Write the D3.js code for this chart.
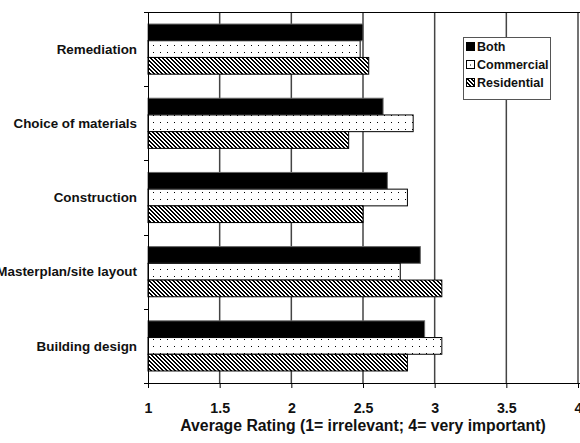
<!DOCTYPE html>
<html><head><meta charset="utf-8">
<script src="https://cdn.jsdelivr.net/npm/d3@7"></script>
<style>body{margin:0;background:#fff}svg{display:block;font-family:"Liberation Sans",Arial,sans-serif}</style>
</head><body><svg id="c" width="580" height="443"></svg>
<script>
const categories = ["Remediation","Choice of materials","Construction","Masterplan/site layout","Building design"];
const seriesNames = ["Both","Commercial","Residential"];
const both = [2.50, 2.64, 2.67, 2.90, 2.93];
const commercial = [2.48, 2.85, 2.81, 2.76, 3.05];
const residential = [2.54, 2.40, 2.50, 3.05, 2.81];
const xTicks = [1, 1.5, 2, 2.5, 3, 3.5, 4];
const xTitle = "Average Rating (1= irrelevant; 4= very important)";

const seriesValues = [both, commercial, residential];
const svg = d3.select("#c");
const L = 148, T = 12, R = 578, B = 383;

const defs = svg.append("defs");
const pd = defs.append("pattern").attr("id","dots").attr("patternUnits","userSpaceOnUse")
  .attr("width",7).attr("height",7).attr("x",L+3).attr("y",0);
pd.append("rect").attr("width",7).attr("height",7).attr("fill","#fff");
pd.append("rect").attr("x",2).attr("y",3).attr("width",1).attr("height",1).attr("fill","#000");
const ph = defs.append("pattern").attr("id","hatch").attr("patternUnits","userSpaceOnUse")
  .attr("width",4).attr("height",4);
ph.append("rect").attr("width",4).attr("height",4).attr("fill","#fff");
[[0,0],[1,1],[2,2],[3,3],[1,0],[2,1],[3,2],[0,3]].forEach(([a,b])=>{
  ph.append("rect").attr("x",a).attr("y",b).attr("width",1).attr("height",1).attr("fill","#000");
});
const fills = ["#000","url(#dots)","url(#hatch)"];

const x = d3.scaleLinear().domain([1,4]).range([L,R]);
const y0 = d3.scaleBand().domain(categories).range([T,B]).padding(0);
const y1 = d3.scaleBand().domain(seriesNames).range([0,y0.bandwidth()]).paddingInner(0).paddingOuter(0.72);

// gridlines
svg.append("g").selectAll("line").data(xTicks.slice(1)).join("line")
  .attr("x1",d=>x(d)).attr("x2",d=>x(d)).attr("y1",T).attr("y2",B)
  .attr("stroke","#444").attr("stroke-width",1.5);
// top border
svg.append("line").attr("x1",L-4).attr("x2",R+2).attr("y1",T+0.5).attr("y2",T+0.5).attr("stroke","#000");

// bars
const g = svg.append("g");
categories.forEach((c,i)=>{
  seriesNames.forEach((s,j)=>{
    const v = seriesValues[j][i];
    g.append("rect")
      .attr("x",x(1)).attr("y",y0(c)+y1(s))
      .attr("width",x(v)-x(1)).attr("height",y1.bandwidth())
      .attr("fill",fills[j]).attr("stroke", j===0?"#666":"#000").attr("stroke-width",1);
  });
});

// left axis
svg.append("line").attr("x1",L+0.5).attr("x2",L+0.5).attr("y1",T).attr("y2",B).attr("stroke","#000");
const bounds = categories.map(c=>y0(c)).concat([B]);
svg.append("g").selectAll("line").data(bounds).join("line")
  .attr("x1",L-4).attr("x2",L).attr("y1",d=>Math.round(d)+0.5).attr("y2",d=>Math.round(d)+0.5).attr("stroke","#000");
svg.append("g").selectAll("text").data(categories).join("text")
  .attr("x",137).attr("y",d=>y0(d)+y0.bandwidth()/2).attr("dy","0.35em")
  .attr("text-anchor","end").attr("font-size",13.4).attr("font-weight","bold").attr("fill","#111")
  .text(d=>d);

// bottom axis
const ax = svg.append("g").attr("transform",`translate(0,${B})`)
  .call(d3.axisBottom(x).tickValues(xTicks).tickFormat(d3.format("")).tickSize(5).tickPadding(15).tickSizeOuter(0));
ax.select(".domain").attr("d",`M${L-4},0.5H${R+2}`).attr("stroke","#000");
ax.selectAll("text").attr("font-size",14.2).attr("font-weight","bold").attr("fill","#111").attr("font-family","Liberation Sans, Arial");
svg.append("text").attr("x",(L+R)/2).attr("y",430.5).attr("text-anchor","middle")
  .attr("font-size",15.8).attr("font-weight","bold").attr("fill","#111").text(xTitle);

// legend
const lg = svg.append("g");
lg.append("rect").attr("x",463.5).attr("y",37.5).attr("width",87).attr("height",62)
  .attr("fill","#fff").attr("stroke","#555");
seriesNames.forEach((s,j)=>{
  const cy = 46.5 + j*18;
  lg.append("rect").attr("x",466.5).attr("y",cy-4).attr("width",8).attr("height",8)
    .attr("fill", j===1?"#fff":fills[j]).attr("stroke","#000");
  if (j===1) lg.append("rect").attr("x",470).attr("y",cy).attr("width",1).attr("height",1).attr("fill","#000");
  lg.append("text").attr("x",477).attr("y",cy).attr("dy","0.35em")
    .attr("font-size",12.5).attr("font-weight","bold").attr("fill","#111").text(s);
});
</script></body></html>
